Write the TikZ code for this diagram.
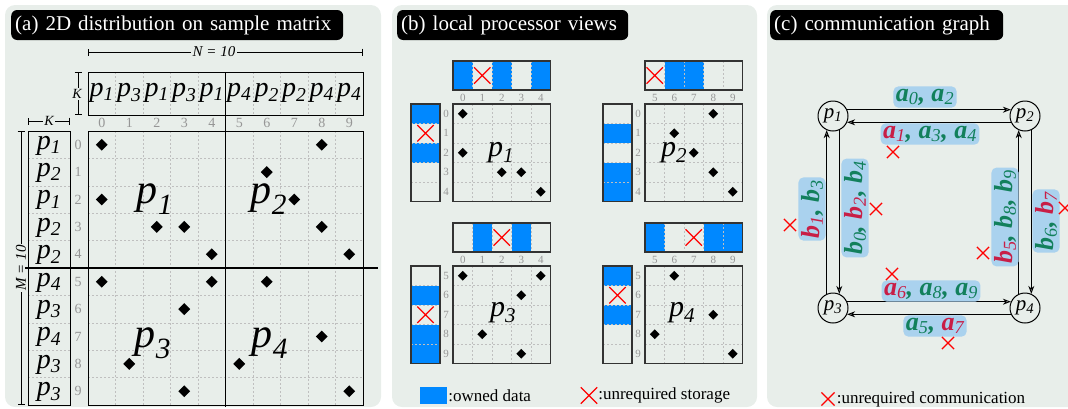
\documentclass[tikz,border=0pt]{standalone}
\usepackage{fontspec}
\setmainfont{Liberation Serif}
\usetikzlibrary{positioning, arrows.meta, shapes.geometric, shapes.misc}

\definecolor{panelbg}{RGB}{232,238,234}
\definecolor{owned}{RGB}{0,136,255}
\definecolor{tagbg}{RGB}{170,210,238}
\definecolor{okgreen}{RGB}{18,128,92}
\definecolor{badred}{RGB}{200,30,70}
\definecolor{idxgray}{RGB}{150,150,150}

\newcommand{\pp}[1]{\textit{p}\textsubscript{\textit{#1}}}
\newcommand{\vb}[2]{\textbf{\textit{#1}}\textsubscript{\textit{\mdseries #2}}}
\newcommand{\badv}[2]{{\color{badred}\vb{#1}{#2}}}

\tikzset{
  panel/.style={fill=panelbg, rounded corners=10pt},
  headbox/.style={fill=black, text=white, rounded corners=6pt, anchor=west,
    inner xsep=4pt, inner ysep=2pt, minimum height=30pt, align=left,
    font=\fontsize{21}{21}\selectfont},
  gridline/.style={draw=gray!50, dash pattern=on 2pt off 2pt, line width=0.6pt},
  cellframe/.style={draw=black!80, line width=1.2pt},
  idx/.style={text=idxgray, inner sep=0, font=\fontsize{14}{14}\selectfont},
  idxs/.style={idx, font=\fontsize{11}{11}\selectfont},
  barp/.style={inner sep=0, font=\fontsize{28}{28}\selectfont},
  bigp/.style={inner sep=0, font=\fontsize{42}{42}\selectfont},
  midp/.style={inner sep=0, font=\fontsize{30}{30}\selectfont},
  nz/.style={diamond, fill=black, inner sep=0, minimum size=12pt},
  nzs/.style={nz, minimum size=10pt},
  nope/.style={cross out, draw=red, line width=1.3pt, inner sep=0, minimum size=#1},
  nope/.default=14pt,
  dimline/.style={{Bar[width=7pt]}-{Bar[width=7pt]}, line width=0.6pt},
  dimlab/.style={fill=panelbg, inner sep=1.5pt, font=\fontsize{15}{15}\selectfont\itshape},
  proc/.style={circle, draw, line width=1pt, minimum size=30pt, inner sep=0,
    font=\fontsize{21}{21}\selectfont},
  flow/.style={-{Stealth[open, length=8pt, width=6pt]}, line width=0.9pt},
  msgtag/.style={fill=tagbg, rounded corners=5pt, inner sep=2.5pt, text=okgreen,
    font=\fontsize{26}{26}\selectfont\bfseries\itshape},
  keytext/.style={inner sep=0, font=\fontsize{17}{17}\selectfont}
}

\begin{document}
\begin{tikzpicture}[x=1pt, y=-1pt]
\path[use as bounding box] (0,0) rectangle (1068,408);
\clip (0,0) rectangle (1068,408);

% ---------- (a) global matrix ----------
\fill[panel] (5,5) rectangle (381,407);
\node[headbox, text width=324pt] (ta) at (11,25) {(a) 2D distribution on sample matrix};

% sizes
\draw[dimline] (88,52) -- (363,52);
\node[dimlab] (nlab) at (214,52) {N = 10};
\draw[dimline] (78,72) -- (78,115);
\node[dimlab, inner sep=1pt, font=\fontsize{14}{14}\selectfont\itshape] (klab1) at (77,94) {K};
\draw[dimline] (28,121) -- (70,121);
\node[dimlab, inner sep=1pt, font=\fontsize{14}{14}\selectfont\itshape] (klab2) at (49,121) {K};
\draw[dimline] (21,131) -- (21,405);
\node[dimlab, rotate=90] (mlab) at (21,268) {M = 10};

% column owners
\foreach \i in {1,...,9} \draw[gridline] (88+27.5*\i,72) -- (88+27.5*\i,115);
\draw[line width=1pt] (88,72) rectangle (363,115);
\foreach \o [count=\i from 0] in {1,3,1,3,1,4,2,2,4,4}
  \node[barp] (col\i) at (88+27.5*\i+13.75,93) {\pp{\o}};

% row owners
\foreach \i in {1,...,9} \draw[gridline] (28,131+27.4*\i) -- (70,131+27.4*\i);
\draw[line width=1pt] (28,131) rectangle (70,405);
\foreach \o [count=\i from 0] in {1,2,1,2,2,4,3,4,3,3}
  \node[barp] (row\i) at (49,131+27.4*\i+14.5) {\pp{\o}};

% indices
\foreach \i in {0,...,9} {
  \node[idx] (ci\i) at (88+27.5*\i+13.75,123) {\i};
  \node[idx] (ri\i) at (78,131+27.4*\i+13.7) {\i};
}

% matrix
\foreach \i in {1,...,9} {
  \draw[gridline] (88+27.5*\i,131) -- (88+27.5*\i,405);
  \draw[gridline] (88,131+27.4*\i) -- (363,131+27.4*\i);
}
\draw[line width=1pt] (88,131) rectangle (363,405);
\foreach \r/\c in {0/0,0/8,1/6,2/0,2/7,3/2,3/3,3/8,4/4,4/9,5/0,5/4,5/6,6/3,7/8,8/1,8/5,9/3,9/9}
  \node[nz] (d\r-\c) at (88+27.5*\c+13.75,131+27.4*\r+13.7) {};

\node[bigp] (big1) at (155,199) {\pp{1}};
\node[bigp] (big2) at (269,199) {\pp{2}};
\node[bigp] (big3) at (153,343) {\pp{3}};
\node[bigp] (big4) at (270,343) {\pp{4}};

\draw[line width=1.2pt] (225.5,72) -- (225.5,407);
\draw[line width=1.2pt] (25,268) -- (378,268);

% ---------- (b) local views ----------
\fill[panel] (392,5) rectangle (757,407);
\node[headbox, text width=223pt] (tb) at (397,25) {(b) local processor views};

% owned blocks
\foreach \k in {0,2,4} \fill[owned] (453+19.5*\k,61) rectangle ++(19.5,29);
\foreach \k in {0,2} \fill[owned] (411,104+19.5*\k) rectangle ++(29,19.5);
\foreach \k in {1,2} \fill[owned] (645+19.5*\k,61) rectangle ++(19.5,29);
\foreach \k in {1,3,4} \fill[owned] (603,104+19.5*\k) rectangle ++(29,19.5);
\foreach \k in {1,3} \fill[owned] (453+19.5*\k,223) rectangle ++(19.5,29);
\foreach \k in {1,3,4} \fill[owned] (411,266+19.5*\k) rectangle ++(29,19.5);
\foreach \k in {0,3,4} \fill[owned] (645+19.5*\k,223) rectangle ++(19.5,29);
\foreach \k in {0,2} \fill[owned] (603,266+19.5*\k) rectangle ++(29,19.5);

% frames, grids and indices
\foreach \vx/\vy/\cs/\rs in {453/104/0/0, 645/104/5/0, 453/266/0/5, 645/266/5/5} {
  \foreach \i in {1,...,4} {
    \draw[gridline] (\vx+19.5*\i,\vy) -- (\vx+19.5*\i,\vy+97.5);
    \draw[gridline] (\vx,\vy+19.5*\i) -- (\vx+97.5,\vy+19.5*\i);
    \draw[gridline] (\vx+19.5*\i,\vy-43) -- (\vx+19.5*\i,\vy-14);
    \draw[gridline] (\vx-42,\vy+19.5*\i) -- (\vx-13,\vy+19.5*\i);
  }
  \draw[cellframe] (\vx,\vy) rectangle ++(97.5,97.5);
  \draw[cellframe] (\vx,\vy-43) rectangle ++(97.5,29);
  \draw[cellframe] (\vx-42,\vy) rectangle ++(29,97.5);
  \foreach \i in {0,...,4} {
    \pgfmathtruncatemacro\cn{\cs+\i}
    \pgfmathtruncatemacro\rn{\rs+\i}
    \node[idxs] (c\vx\vy-\cn) at (\vx+19.5*\i+9.75,\vy-6) {\cn};
    \node[idxs] (r\vx\vy-\rn) at (\vx-7,\vy+19.5*\i+9.75) {\rn};
  }
}

% nonzeros
\foreach \r/\c in {0/0,2/0,3/2,3/3,4/4}
  \node[nzs] (v1-\r\c) at (453+19.5*\c+9.75,104+19.5*\r+9.75) {};
\foreach \r/\c in {0/3,1/1,2/2,3/3,4/4}
  \node[nzs] (v2-\r\c) at (645+19.5*\c+9.75,104+19.5*\r+9.75) {};
\foreach \r/\c in {0/0,0/4,1/3,3/1,4/3}
  \node[nzs] (v3-\r\c) at (453+19.5*\c+9.75,266+19.5*\r+9.75) {};
\foreach \r/\c in {0/1,2/3,3/0,4/4}
  \node[nzs] (v4-\r\c) at (645+19.5*\c+9.75,266+19.5*\r+9.75) {};

% storage that is never used
\node[nope=15pt] (x1a) at (482.25,75.5) {};
\node[nope=15pt] (x1b) at (425.5,133.25) {};
\node[nope=15pt] (x2a) at (654.75,75.5) {};
\node[nope=15pt] (x3a) at (501.75,237.5) {};
\node[nope=15pt] (x3b) at (425.5,314.75) {};
\node[nope=15pt] (x4a) at (693.75,237.5) {};
\node[nope=15pt] (x4b) at (617.5,295.25) {};

\node[midp] (v1) at (501,153) {\pp{1}};
\node[midp] (v2) at (674,153) {\pp{2}};
\node[midp] (v3) at (503,313) {\pp{3}};
\node[midp] (v4) at (682,313) {\pp{4}};

% key
\node[fill=owned, minimum width=27pt, minimum height=17pt, inner sep=0] (ownkey) at (433.5,395.5) {};
\node[keytext, right=1pt of ownkey] (ownlab) {:owned data};
\node[nope=15pt] (xkey) at (589,395.5) {};
\node[keytext, right=1pt of xkey] (xlab) {:unrequired storage};

% ---------- (c) communication ----------
\fill[panel] (767,5) rectangle (1090,407);
\node[headbox, text width=225pt] (tc) at (770,25) {(c) communication graph};

\node[proc] (p1) at (833,116) {\pp{1}};
\node[proc] (p2) at (1025,116) {\pp{2}};
\node[proc] (p3) at (833,308) {\pp{3}};
\node[proc] (p4) at (1025,308) {\pp{4}};

\draw[flow] (p1.24) -- (p2.156);
\draw[flow] (p2.204) -- (p1.336);
\draw[flow] (p3.114) -- (p1.246);
\draw[flow] (p1.294) -- (p3.66);
\draw[flow] (p4.114) -- (p2.246);
\draw[flow] (p2.294) -- (p4.66);
\draw[flow] (p3.24) -- (p4.156);
\draw[flow] (p4.204) -- (p3.336);

\node[msgtag] (a02) at (925,97) {\vb{a}{0}, \vb{a}{2}};
\node[msgtag] (a134) at (930,134) {\badv{a}{1}, \vb{a}{3}, \vb{a}{4}};
\node[msgtag] (a689) at (931,291) {\badv{a}{6}, \vb{a}{8}, \vb{a}{9}};
\node[msgtag] (a57) at (935,326) {\vb{a}{5}, \badv{a}{7}};
\node[msgtag, rotate=90] (b13) at (812,209) {\badv{b}{1}, \vb{b}{3}};
\node[msgtag, rotate=90] (b024) at (855,208) {\vb{b}{0}, \badv{b}{2}, \vb{b}{4}};
\node[msgtag, rotate=90] (b589) at (1005,217) {\badv{b}{5}, \vb{b}{8}, \vb{b}{9}};
\node[msgtag, rotate=90] (b67) at (1046,221) {\vb{b}{6}, \badv{b}{7}};

% messages that are not needed
\node[nope=11pt, line width=1.2pt] (xa1) at (893,152) {};
\node[nope=11pt, line width=1.2pt] (xb2) at (876,209) {};
\node[nope=11pt, line width=1.2pt] (xb1) at (790,225) {};
\node[nope=11pt, line width=1.2pt] (xa6) at (892,274) {};
\node[nope=11pt, line width=1.2pt] (xa7) at (948,343) {};
\node[nope=11pt, line width=1.2pt] (xb5) at (983,253) {};
\node[nope=11pt, line width=1.2pt] (xb7) at (1065,208) {};

\node[nope=12pt, line width=1.2pt] (xkey2) at (828,399) {};
\node[keytext, right=2pt of xkey2] (xlab2) {:unrequired communication};
\end{tikzpicture}
\end{document}
